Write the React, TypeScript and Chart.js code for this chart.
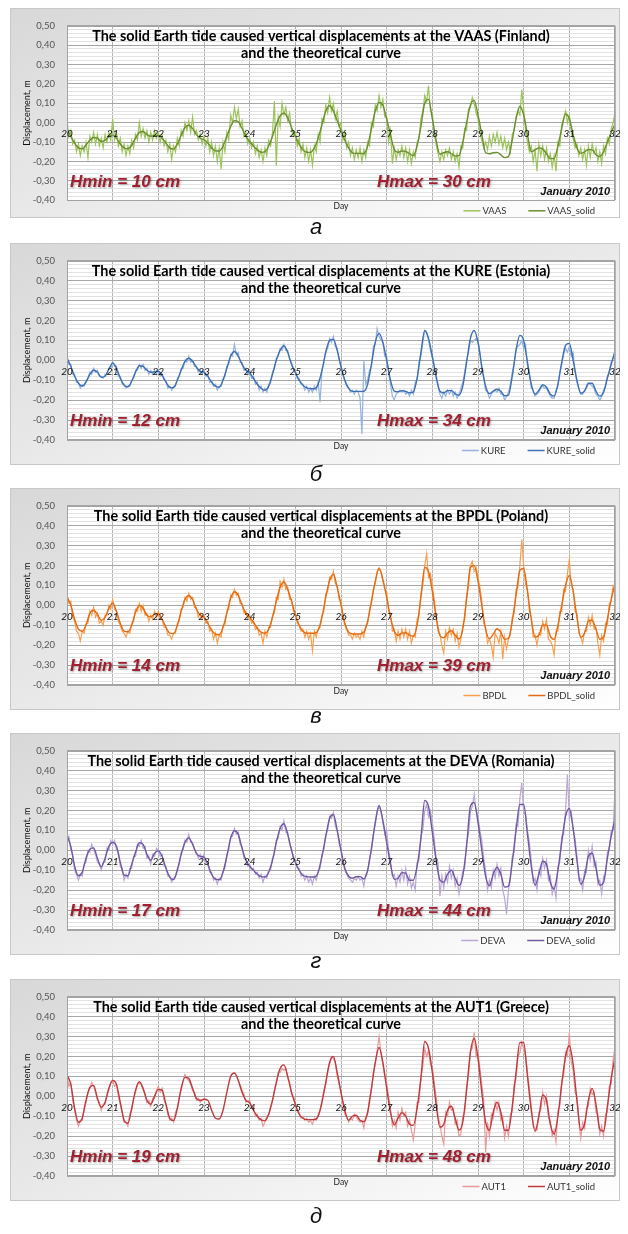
import React, { useEffect, useRef } from 'react';
import { Chart, registerables } from 'chart.js';

Chart.register(...registerables);

// ---------- data ----------
const START_DAY = 20;
const END_DAY = 32;
const OBS_STEP = 1 / 24; // observed: hourly samples
const SOLID_STEP = 1 / 12; // theoretical curve: 2-hour samples
const Y_MIN = -0.4;
const Y_MAX = 0.5;

const STATIONS = ['VAAS', 'KURE', 'BPDL', 'DEVA', 'AUT1'];
const COUNTRIES = ['Finland', 'Estonia', 'Poland', 'Romania', 'Greece'];
const HMIN_CM = [10, 12, 14, 17, 19];
const HMAX_CM = [30, 34, 39, 44, 48];
const CAPTIONS = ['а', 'б', 'в', 'г', 'д'];

const VAAS = [
  .01,-.07,-.04,-.11,-.09,-.15,-.11,-.17,-.12,-.15,-.1,-.18,-.07,-.1,-.05,-.11,-.06,-.12,-.08,-.13,-.06,-.1,-.05,-.09,
  .02,-.09,-.05,-.12,-.08,-.15,-.11,-.17,-.12,-.16,-.09,-.13,-.06,-.09,0,-.07,-.03,-.08,-.04,-.1,-.05,-.09,-.04,-.08,
  -.05,-.1,-.06,-.12,-.09,-.15,-.11,-.19,-.12,-.15,-.08,-.12,-.04,-.07,0,-.04,.01,-.05,.03,-.06,-.04,-.09,-.06,-.11,
  -.07,-.12,-.08,-.15,-.1,-.17,-.12,-.2,-.13,-.24,-.1,-.15,-.05,-.09,.04,0,.08,.02,.07,-.02,.01,-.07,-.05,-.11,
  -.08,-.13,-.1,-.16,-.12,-.18,-.14,-.2,-.13,-.17,-.09,-.12,-.05,.11,-.22,.03,-.02,.1,.04,.08,.01,.05,-.04,-.07,
  -.05,-.12,-.08,-.15,-.11,-.18,-.13,-.2,-.14,-.22,-.12,-.15,-.06,-.1,.02,0,.09,.05,.13,.06,.1,.02,.06,-.02,
  0,-.09,-.05,-.13,-.1,-.17,-.13,-.19,-.14,-.18,-.13,-.2,-.14,-.18,-.1,-.12,0,-.02,.09,.06,.14,.08,.12,.03,
  .03,-.1,-.04,-.21,-.13,-.19,-.14,-.17,-.12,-.18,-.13,-.2,-.14,-.21,-.15,-.18,-.1,-.08,.02,.06,.14,.11,.19,.06,
  .05,-.06,-.11,-.16,-.2,-.15,-.19,-.14,-.17,-.13,-.19,-.15,-.2,-.16,-.23,-.12,-.13,-.03,-.04,.07,.08,.13,.1,.05,
  .02,-.05,-.09,-.13,-.1,-.14,-.07,-.12,-.06,-.1,-.05,-.11,-.07,-.13,-.08,-.14,-.1,-.15,-.06,-.04,.03,.06,.04,.17,
  .07,-.04,-.1,-.15,-.12,-.2,-.14,-.25,-.11,-.17,-.12,-.19,-.13,-.2,-.16,-.23,-.17,-.25,-.1,-.12,-.01,.02,.06,0,
  .04,-.05,-.08,-.13,-.11,-.17,-.13,-.19,-.14,-.22,-.12,-.18,-.11,-.16,-.13,-.2,-.15,-.21,-.12,-.16,-.08,-.11,-.03,0,
  .05,
];
const VAAS_SOLID = [
  -.033,-.07,-.105,-.13,-.135,-.115,-.09,-.076,-.08,-.097,-.09,-.072,
  -.063,-.08,-.11,-.13,-.135,-.115,-.08,-.05,-.045,-.062,-.07,-.066,
  -.066,-.08,-.105,-.13,-.136,-.11,-.065,-.025,-.014,-.03,-.06,-.08,
  -.088,-.105,-.13,-.145,-.146,-.12,-.07,-.02,.01,.005,-.03,-.07,
  -.097,-.12,-.14,-.152,-.15,-.12,-.07,-.01,.035,.05,.025,-.025,
  -.07,-.11,-.14,-.152,-.153,-.13,-.08,-.01,.06,.087,.06,.01,
  -.04,-.09,-.13,-.155,-.158,-.158,-.16,-.12,-.03,.06,.105,.09,
  .02,-.06,-.14,-.153,-.146,-.148,-.16,-.17,-.12,-.02,.1,.12,
  .02,-.09,-.163,-.155,-.15,-.16,-.172,-.17,-.1,0,.09,.115,
  .04,-.06,-.155,-.16,-.155,-.153,-.165,-.18,-.175,-.09,.02,.085,
  .04,-.06,-.15,-.14,-.13,-.135,-.16,-.185,-.185,-.12,-.03,.045,
  .02,-.06,-.13,-.158,-.15,-.138,-.14,-.165,-.175,-.15,-.1,-.05,
  -.008,
];

const KURE = [
  .02,-.02,-.02,-.07,-.07,-.11,-.11,-.14,-.12,-.13,-.1,-.09,-.06,-.07,-.04,-.06,-.05,-.08,-.08,-.09,-.07,-.07,-.04,-.04,
  -.01,-.03,-.03,-.08,-.08,-.12,-.12,-.14,-.13,-.13,-.1,-.09,-.05,-.05,-.02,-.04,-.02,-.05,-.04,-.07,-.05,-.07,-.05,-.07,
  -.05,-.08,-.07,-.1,-.1,-.14,-.13,-.15,-.13,-.13,-.09,-.08,-.04,-.04,0,-.01,.02,-.01,0,-.03,-.03,-.06,-.05,-.07,
  -.05,-.08,-.07,-.11,-.1,-.13,-.12,-.15,-.13,-.13,-.09,-.08,-.03,-.02,.03,.02,.08,.03,.04,-.01,-.01,-.05,-.04,-.07,
  -.05,-.09,-.08,-.12,-.11,-.15,-.13,-.16,-.14,-.16,-.12,-.11,-.06,-.04,.01,.02,.06,.05,.08,.05,.05,0,-.01,-.05,
  -.05,-.09,-.09,-.12,-.12,-.15,-.13,-.16,-.14,-.16,-.13,-.15,-.11,-.21,-.05,-.01,.05,.06,.11,.09,.12,.07,.06,0,
  -.03,-.07,-.1,-.13,-.14,-.16,-.15,-.17,-.15,-.16,-.19,-.37,0,-.12,-.1,-.05,-.03,.07,.08,.16,.12,.1,.09,.02,
  .02,-.06,-.12,-.18,-.2,-.17,-.16,-.15,-.16,-.15,-.17,-.16,-.18,-.15,-.17,-.11,-.1,-.01,.02,.09,.15,.14,.1,.05,
  .01,-.03,-.09,-.13,-.17,-.19,-.16,-.18,-.15,-.17,-.15,-.18,-.16,-.19,-.17,-.14,-.11,-.06,0,.04,.1,.09,.1,.11,
  .1,.04,-.05,-.09,-.15,-.16,-.19,-.17,-.16,-.15,-.16,-.14,-.17,-.17,-.2,-.18,-.16,-.12,-.06,-.02,.06,.07,.08,.1,
  .06,.08,-.03,-.07,-.14,-.15,-.18,-.17,-.16,-.14,-.13,-.14,-.14,-.16,-.18,-.19,-.19,-.15,-.13,-.06,-.02,.03,.06,.04,
  .07,.02,.04,-.06,-.11,-.14,-.17,-.17,-.15,-.14,-.12,-.12,-.13,-.14,-.17,-.18,-.2,-.18,-.15,-.13,-.08,-.06,-.01,.01,
  .05,
];
const KURE_SOLID = [
  .01,-.03,-.08,-.115,-.13,-.11,-.07,-.05,-.06,-.085,-.08,-.045,
  -.013,-.04,-.09,-.125,-.133,-.105,-.06,-.027,-.03,-.05,-.06,-.058,
  -.055,-.075,-.11,-.135,-.138,-.1,-.05,-.005,.01,-.005,-.035,-.055,
  -.06,-.08,-.11,-.13,-.135,-.1,-.04,.02,.044,.02,-.02,-.05,
  -.062,-.09,-.12,-.14,-.15,-.13,-.07,0,.05,.073,.04,-.02,
  -.062,-.1,-.125,-.138,-.142,-.143,-.12,-.05,.04,.1,.105,.05,
  -.03,-.1,-.14,-.156,-.156,-.156,-.155,-.12,-.02,.09,.135,.09,
  0,-.1,-.155,-.158,-.152,-.156,-.163,-.16,-.09,.04,.15,.11,
  .02,-.08,-.155,-.163,-.152,-.152,-.168,-.175,-.13,-.01,.11,.15,
  .09,-.03,-.13,-.167,-.155,-.145,-.155,-.178,-.175,-.08,.05,.125,
  .1,-.01,-.12,-.17,-.15,-.123,-.135,-.17,-.18,-.12,-.01,.075,
  .085,0,-.1,-.165,-.155,-.115,-.115,-.155,-.18,-.16,-.09,-.02,
  .044,
];

const BPDL = [
  .05,.01,.02,-.06,-.08,-.13,-.14,-.18,-.13,-.14,-.09,-.09,-.03,-.05,-.01,-.06,-.04,-.09,-.08,-.1,-.05,-.05,0,-.02,
  .03,-.02,-.03,-.08,-.1,-.13,-.14,-.16,-.13,-.14,-.09,-.08,-.02,-.03,.01,-.03,0,-.05,-.04,-.08,-.05,-.07,-.03,-.06,
  -.03,-.07,-.07,-.11,-.11,-.15,-.15,-.17,-.14,-.14,-.09,-.08,-.02,-.01,.04,.02,.06,.03,.04,-.01,-.01,-.06,-.04,-.07,
  -.05,-.09,-.08,-.13,-.12,-.17,-.14,-.19,-.15,-.16,-.1,-.1,-.03,-.02,.05,.04,.08,.05,.06,.01,.01,-.04,-.03,-.07,
  -.05,-.09,-.08,-.12,-.11,-.15,-.14,-.19,-.13,-.16,-.11,-.11,-.05,-.04,.04,.03,.12,.09,.13,.08,.09,.03,.03,-.03,
  -.04,-.09,-.1,-.13,-.12,-.16,-.13,-.17,-.14,-.23,-.13,-.16,-.12,-.11,-.05,-.03,.06,.07,.14,.13,.17,.11,.1,.03,
  .02,-.06,-.1,-.12,-.15,-.15,-.17,-.14,-.16,-.15,-.17,-.13,-.16,-.1,-.09,-.02,.01,.08,.11,.17,.18,.17,.12,.08,
  .07,-.03,-.04,-.13,-.12,-.18,-.13,-.17,-.12,-.16,-.12,-.17,-.13,-.19,-.15,-.16,-.07,-.05,.06,.1,.2,.26,.14,.16,
  .1,.03,-.05,-.13,-.15,-.2,-.24,-.13,-.17,-.11,-.15,-.12,-.18,-.14,-.21,-.17,-.1,-.07,.05,.09,.2,.22,.17,.19,
  .14,.09,.02,-.09,-.11,-.19,-.17,-.2,-.26,-.14,-.16,-.19,-.13,-.27,-.16,-.22,-.17,-.15,-.06,-.04,.08,.09,.2,.33,
  .2,.1,.08,-.03,-.06,-.16,-.15,-.2,-.14,-.15,-.08,-.12,-.07,-.17,-.18,-.2,-.25,-.13,-.13,-.03,-.03,.08,.07,.16,
  .23,.1,.08,-.03,-.04,-.14,-.16,-.19,-.13,-.13,-.06,-.1,-.05,-.12,-.11,-.19,-.25,-.15,-.18,-.09,-.1,.01,.02,.1,
  .1,
];
const BPDL_SOLID = [
  .044,0,-.07,-.12,-.13,-.1,-.04,-.025,-.045,-.075,-.06,-.015,
  .012,-.03,-.09,-.13,-.133,-.1,-.035,0,-.015,-.05,-.058,-.045,
  -.042,-.07,-.11,-.14,-.142,-.1,-.03,.03,.048,.03,-.02,-.05,
  -.06,-.09,-.125,-.145,-.148,-.11,-.04,.035,.068,.05,0,-.04,
  -.06,-.085,-.115,-.135,-.14,-.12,-.06,.02,.09,.117,.08,.02,
  -.046,-.1,-.13,-.14,-.14,-.14,-.125,-.06,.04,.125,.156,.09,
  .003,-.09,-.135,-.144,-.144,-.144,-.135,-.08,.02,.12,.188,.13,
  .04,-.06,-.13,-.15,-.14,-.138,-.15,-.155,-.1,.04,.19,.17,
  .07,-.06,-.15,-.163,-.14,-.128,-.15,-.169,-.12,.03,.19,.2,
  .12,0,-.12,-.168,-.145,-.118,-.135,-.17,-.165,-.08,.05,.175,
  .185,.07,-.07,-.16,-.15,-.1,-.1,-.155,-.172,-.1,0,.1,
  .15,.07,-.06,-.16,-.14,-.08,-.075,-.12,-.17,-.16,-.07,.03,
  .107,
];

const DEVA = [
  .06,.07,0,-.02,-.1,-.12,-.15,-.12,-.13,-.07,-.06,0,-.01,.03,0,-.02,-.06,-.07,-.1,-.06,-.06,.01,0,.05,
  .03,.05,0,-.01,-.08,-.09,-.15,-.12,-.14,-.09,-.09,-.03,-.03,.03,.02,.05,.01,.02,-.04,-.03,-.07,-.02,-.03,.01,
  0,-.03,-.02,-.08,-.08,-.13,-.13,-.16,-.14,-.13,-.09,-.07,-.01,0,.05,.04,.08,.04,.04,0,-.01,-.04,-.02,-.05,
  -.02,-.06,-.06,-.11,-.11,-.15,-.14,-.17,-.14,-.15,-.1,-.09,-.02,0,.07,.07,.11,.08,.09,.03,.02,-.04,-.04,-.08,
  -.07,-.1,-.09,-.12,-.11,-.14,-.12,-.16,-.13,-.14,-.1,-.1,-.04,-.02,.05,.06,.12,.1,.15,.09,.09,.03,.01,-.05,
  -.05,-.09,-.09,-.13,-.12,-.15,-.13,-.16,-.14,-.17,-.13,-.15,-.11,-.09,-.02,0,.08,.1,.17,.16,.19,.12,.1,.03,
  .01,-.06,-.1,-.12,-.14,-.15,-.16,-.14,-.15,-.13,-.15,-.14,-.18,-.12,-.11,-.04,0,.08,.13,.19,.22,.2,.14,.08,
  .1,0,-.05,-.13,-.12,-.18,-.13,-.16,-.1,-.15,-.09,-.17,-.13,-.19,-.16,-.2,-.06,-.05,.07,.1,.2,.23,.17,.2,
  .14,.06,-.04,-.06,-.23,-.13,-.19,-.12,-.16,-.08,-.14,-.1,-.18,-.14,-.22,-.17,-.1,-.09,.04,.08,.19,.22,.28,.2,
  .17,.1,.05,-.04,-.1,-.2,-.15,-.19,-.1,-.14,-.07,-.13,-.09,-.2,-.24,-.32,-.2,-.15,-.03,-.01,.13,.12,.26,.34,
  .19,.18,.1,.04,-.05,-.16,-.14,-.2,-.1,-.13,-.04,-.09,-.05,-.15,-.13,-.22,-.18,-.24,-.08,-.06,.07,.08,.2,.38,
  .16,.19,.1,.06,-.03,-.15,-.14,-.2,-.1,-.11,0,-.05,.02,-.08,-.06,-.17,-.15,-.22,-.13,-.12,-.01,0,.1,.1,
  .3,
];
const DEVA_SOLID = [
  .074,.02,-.08,-.128,-.11,-.04,.005,.012,-.04,-.083,-.04,.02,
  .04,.02,-.06,-.125,-.128,-.07,-.01,.038,.03,-.02,-.05,-.015,
  -.003,-.03,-.09,-.135,-.147,-.1,-.02,.04,.062,.03,-.015,-.03,
  -.035,-.07,-.12,-.145,-.148,-.11,-.03,.06,.098,.08,.01,-.05,
  -.08,-.1,-.12,-.132,-.134,-.11,-.05,.04,.11,.133,.08,0,
  -.06,-.1,-.125,-.132,-.134,-.134,-.11,-.03,.07,.16,.18,.1,
  0,-.09,-.13,-.14,-.133,-.132,-.144,-.1,.01,.14,.225,.15,
  .04,-.07,-.145,-.14,-.112,-.115,-.15,-.15,-.08,.06,.25,.22,
  .09,-.05,-.15,-.16,-.12,-.1,-.14,-.177,-.13,.02,.22,.24,
  .14,0,-.13,-.178,-.12,-.085,-.12,-.185,-.18,-.06,.1,.23,
  .23,.08,-.08,-.175,-.12,-.055,-.07,-.16,-.195,-.1,.04,.17,
  .21,.11,-.05,-.17,-.13,-.03,-.015,-.09,-.175,-.16,-.04,.07,
  .156,
];

const AUT1 = [
  .1,.05,.07,-.02,-.07,-.12,-.15,-.12,-.12,-.06,-.03,.02,.04,.07,.05,.02,-.02,-.03,-.07,-.04,-.04,.01,.03,.07,
  .08,.05,.06,0,-.04,-.08,-.13,-.13,-.15,-.09,-.07,-.01,.02,.06,.07,.06,.03,.01,-.03,-.02,-.05,-.01,-.01,.03,
  .05,.02,.04,-.02,-.04,-.09,-.12,-.11,-.13,-.08,-.06,0,.03,.08,.11,.09,.08,.06,.03,.02,-.02,-.01,-.03,-.02,
  -.01,null,null,null,null,null,null,null,null,null,null,null,null,null,null,null,null,null,null,.06,.03,.01,-.03,-.02,
  -.02,-.06,-.06,-.1,-.09,-.12,-.11,-.15,-.13,-.1,-.09,-.05,-.02,.03,.06,.12,.12,.14,.13,.14,.09,.07,.01,0,
  -.03,-.07,-.08,-.11,-.1,-.12,-.11,-.13,-.12,-.14,-.11,-.12,-.09,-.07,-.02,.03,.06,.13,.16,.2,.19,.17,.1,.06,
  .02,-.03,-.09,-.1,-.13,-.11,-.12,-.09,-.1,-.12,-.13,-.12,-.16,-.1,-.09,-.01,.03,.12,.16,.23,.3,.22,.16,.1,
  .07,0,-.06,-.15,-.12,-.16,-.08,-.12,-.06,-.1,-.08,-.15,-.12,-.17,-.22,-.14,-.03,-.03,.1,.15,.24,.2,.23,.16,
  .15,.07,0,-.1,-.14,-.2,-.24,-.08,-.1,-.03,-.07,-.06,-.14,-.12,-.2,-.19,-.1,-.08,.05,.1,.23,.24,.32,.2,
  .22,.14,.06,-.02,-.28,-.13,-.2,-.09,-.11,-.03,-.07,-.03,-.12,-.1,-.21,-.15,-.2,-.09,-.08,.06,.09,.2,.22,.27,
  .24,.2,.12,.04,-.05,-.15,-.16,-.17,-.08,-.07,.02,-.04,0,-.11,-.12,-.2,-.17,-.23,-.07,-.05,.08,.1,.22,.2,
  .32,.17,.13,.02,0,-.13,-.21,-.13,-.16,-.06,-.05,.04,.01,.02,-.08,-.09,-.19,-.15,-.2,-.09,-.08,.05,.06,.18,
  .25,
];
const AUT1_SOLID = [
  .106,.06,-.06,-.13,-.11,-.02,.045,.055,-.01,-.055,-.03,.04,
  .08,.06,-.03,-.12,-.135,-.06,.03,.073,.04,-.02,-.04,0,
  .035,.03,-.04,-.11,-.122,-.06,.04,.095,.09,.04,-.01,-.02,
  -.015,-.02,-.07,-.11,-.114,-.07,.02,.1,.117,.08,.02,-.02,
  -.033,-.07,-.1,-.118,-.122,-.09,-.02,.07,.14,.158,.1,.02,
  -.04,-.09,-.11,-.117,-.117,-.117,-.1,-.03,.07,.17,.2,.12,
  .02,-.07,-.12,-.1,-.095,-.12,-.128,-.08,.04,.17,.245,.17,
  .04,-.08,-.143,-.11,-.082,-.1,-.14,-.146,-.06,.09,.275,.24,
  .12,-.04,-.155,-.14,-.07,-.05,-.11,-.17,-.13,.03,.22,.29,
  .19,.02,-.13,-.17,-.08,-.03,-.08,-.17,-.17,-.05,.12,.27,
  .27,.1,-.07,-.175,-.1,.005,-.02,-.14,-.19,-.1,.06,.2,
  .255,.16,-.02,-.17,-.14,-.02,.04,-.04,-.165,-.175,-.05,.09,
  .195,
];

const OBSERVED = [VAAS, KURE, BPDL, DEVA, AUT1];
const SOLID = [VAAS_SOLID, KURE_SOLID, BPDL_SOLID, DEVA_SOLID, AUT1_SOLID];

// ---------- styling / layout ----------
const OBS_COLORS = ['#9dc35c', '#95b3dc', '#f8a050', '#b9a8d6', '#e89a9b'];
const SOLID_COLORS = ['#6b8f2f', '#3d6fb4', '#e36b12', '#7058a3', '#c0393c'];
const BOX_TOP = [8, 243, 488, 733, 979];
const BOX_H = [210, 222, 222, 222, 222];
const PAD_TOP = [10, 14, 14, 14, 14];
const CAPTION_TOP = [216, 463, 705, 950, 1205];
const PLOT_H = 183;
const BOX_W = 610;
const UI_FONT = 'Lato, "Open Sans", sans-serif';

function Panel({ idx }: { idx: number }) {
  const ref = useRef<HTMLCanvasElement | null>(null);

  useEffect(() => {
    const canvas = ref.current;
    if (!canvas) return;
    const station = STATIONS[idx];
    const title1 = `The solid Earth tide caused vertical displacements at the ${station} (${COUNTRIES[idx]})`;
    const padBottom = BOX_H[idx] - PAD_TOP[idx] - PLOT_H;

    const decor = {
      id: 'panelDecor' + idx,
      beforeDraw(chart: any) {
        const { ctx, chartArea: a } = chart;
        ctx.save();
        ctx.fillStyle = '#ffffff';
        ctx.fillRect(a.left, a.top, a.right - a.left, a.bottom - a.top);
        ctx.restore();
      },
      afterDraw(chart: any) {
        const { ctx, chartArea: a, scales } = chart;
        const ys = scales.y;
        const xs = scales.x;
        ctx.save();
        // plot frame
        ctx.strokeStyle = '#a2a2a2';
        ctx.lineWidth = 1;
        ctx.strokeRect(Math.round(a.left) + 0.5, Math.round(a.top) + 0.5, Math.round(a.right - a.left) - 1, Math.round(a.bottom - a.top) - 1);

        // day labels along the zero line (from the x scale ticks)
        const y0 = ys.getPixelForValue(0);
        ctx.font = `italic 10px ${UI_FONT}`;
        ctx.fillStyle = '#111';
        ctx.textAlign = 'center';
        ctx.textBaseline = 'middle';
        for (const t of xs.ticks) {
          ctx.fillText(String(t.value), xs.getPixelForValue(t.value), y0 + 11);
        }

        // title
        ctx.fillStyle = '#000';
        ctx.font = `bold 14.4px ${UI_FONT}`;
        ctx.fillText(title1, 311, a.top + 11);
        ctx.fillText('and the theoretical curve', 311, a.top + 28);

        // y axis title
        ctx.save();
        ctx.translate(17, (a.top + a.bottom) / 2);
        ctx.rotate(-Math.PI / 2);
        ctx.font = `9px ${UI_FONT}`;
        ctx.fillStyle = '#111';
        ctx.fillText('Displacement, m', 0, 0);
        ctx.restore();

        // Hmin / Hmax
        ctx.save();
        ctx.font = 'italic bold 17px "Liberation Sans", Arial, sans-serif';
        ctx.fillStyle = '#a11f2f';
        ctx.textAlign = 'left';
        ctx.shadowColor = 'rgba(0,0,0,0.35)';
        ctx.shadowOffsetX = 1;
        ctx.shadowOffsetY = 1;
        ctx.shadowBlur = 2;
        const hy = ys.getPixelForValue(-0.305);
        ctx.fillText(`Hmin = ${HMIN_CM[idx]} cm`, a.left + 3, hy);
        ctx.fillText(`Hmax = ${HMAX_CM[idx]} cm`, a.left + 310, hy);
        ctx.restore();

        // month label
        ctx.font = 'italic bold 11px "Liberation Sans", Arial, sans-serif';
        ctx.fillStyle = '#111';
        ctx.textAlign = 'right';
        ctx.fillText('January 2010', a.right - 5, ys.getPixelForValue(-0.357));

        // x axis title
        ctx.font = `8.5px ${UI_FONT}`;
        ctx.textAlign = 'center';
        ctx.fillStyle = '#222';
        ctx.fillText('Day', (a.left + a.right) / 2, a.bottom + 6);

        // legend
        ctx.font = `9.5px ${UI_FONT}`;
        ctx.textAlign = 'left';
        const ds = chart.data.datasets;
        const w1 = ctx.measureText(ds[0].label).width;
        const w2 = ctx.measureText(ds[1].label).width;
        const ly = a.bottom + 10;
        const x2t = a.right - 20 - w2;
        const x2l = x2t - 19;
        const x1t = x2l - 22 - w1;
        const x1l = x1t - 19;
        const items = [
          [x1l, x1t, ds[0]],
          [x2l, x2t, ds[1]],
        ] as const;
        for (const [lx, tx, d] of items) {
          ctx.strokeStyle = (d as any).borderColor;
          ctx.lineWidth = 1.5;
          ctx.beginPath();
          ctx.moveTo(lx, ly + 0.5);
          ctx.lineTo(lx + 17, ly + 0.5);
          ctx.stroke();
          ctx.fillStyle = '#333';
          ctx.fillText((d as any).label, tx, ly + 0.5);
        }
        ctx.restore();
      },
    };

    const chart = new Chart(canvas, {
      type: 'line',
      data: {
        datasets: [
          {
            label: station,
            data: OBSERVED[idx].map((v, i) => ({ x: START_DAY + i * OBS_STEP, y: v })),
            borderColor: OBS_COLORS[idx],
            borderWidth: 1.2,
            pointRadius: 0,
            tension: 0,
            spanGaps: false,
            order: 1,
          },
          {
            label: station + '_solid',
            data: SOLID[idx].map((v, i) => ({ x: START_DAY + i * SOLID_STEP, y: v })),
            borderColor: SOLID_COLORS[idx],
            borderWidth: 1.4,
            pointRadius: 0,
            cubicInterpolationMode: 'monotone',
            tension: 0.4,
            order: 0,
          },
        ],
      } as any,
      options: {
        animation: false,
        responsive: false,
        events: [],
        layout: { padding: { left: 0, right: 5, top: PAD_TOP[idx], bottom: padBottom } },
        plugins: { legend: { display: false }, tooltip: { enabled: false }, title: { display: false } },
        scales: {
          x: {
            type: 'linear',
            min: START_DAY,
            max: END_DAY,
            position: 'bottom',
            border: { display: false },
            grid: { color: '#b3b3b3', lineWidth: 1, drawTicks: false },
            ticks: { stepSize: 1, autoSkip: false, display: false },
          },
          y: {
            type: 'linear',
            min: Y_MIN,
            max: Y_MAX,
            border: { display: false },
            grid: {
              drawTicks: false,
              lineWidth: 1,
              color: (c: any) => {
                const v = c.tick ? Math.round(c.tick.value * 100) : 1;
                return v % 10 === 0 ? '#a5a5a5' : '#e2e2e2';
              },
            },
            ticks: {
              stepSize: 0.02,
              autoSkip: false,
              padding: 12,
              color: '#555',
              font: { family: UI_FONT, size: 9.5 },
              callback: (v: any) => {
                const c = Math.round(Number(v) * 100);
                return c % 10 === 0 ? (c / 100).toFixed(2).replace('.', ',') : '';
              },
            },
            afterFit: (s: any) => {
              s.width = 57;
            },
          },
        },
      } as any,
      plugins: [decor as any],
    });
    return () => chart.destroy();
  }, [idx]);

  return (
    <>
      <div
        style={{
          position: 'absolute',
          left: 10,
          top: BOX_TOP[idx],
          width: BOX_W,
          height: BOX_H[idx],
          background: 'linear-gradient(to bottom right, #d8d8d8 0%, #e9e9e9 50%, #ffffff 100%)',
          boxShadow: 'inset 0 0 0 1px #c8c8c8',
        }}
      >
        <canvas ref={ref} width={BOX_W} height={BOX_H[idx]} style={{ position: 'absolute', left: 0, top: 0, width: BOX_W, height: BOX_H[idx] }} />
      </div>
      <div
        style={{
          position: 'absolute',
          left: 0,
          width: 632,
          top: CAPTION_TOP[idx],
          textAlign: 'center',
          font: 'italic 22px "Liberation Sans", Arial, sans-serif',
          lineHeight: '22px',
          color: '#111',
        }}
      >
        {CAPTIONS[idx]}
      </div>
    </>
  );
}

export default function App() {
  return (
    <div style={{ position: 'absolute', left: 0, top: 0, width: 628, height: 1234, background: '#fff', overflow: 'hidden' }}>
      {STATIONS.map((_, i) => (
        <Panel key={i} idx={i} />
      ))}
    </div>
  );
}
